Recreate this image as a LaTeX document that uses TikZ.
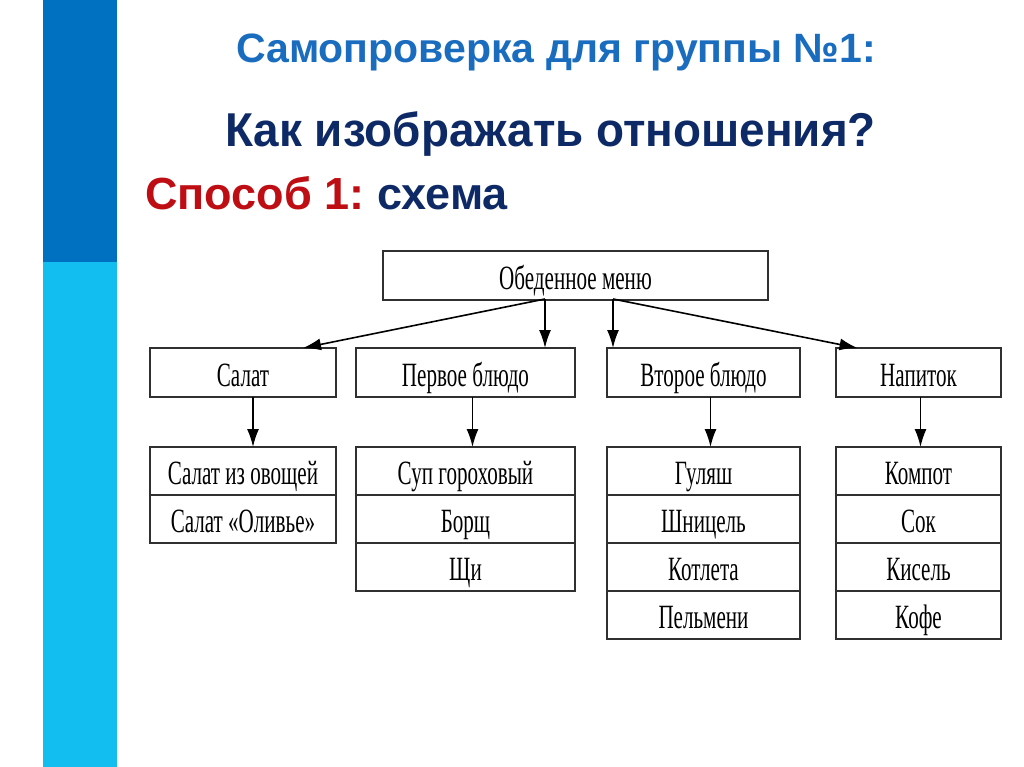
\documentclass[tikz,border=0pt]{standalone}
\usepackage{fontspec}
\setmainfont{Liberation Serif}[FakeStretch=0.62]
\newfontfamily\headfont{Liberation Sans}
\newfontfamily\headnarrow{Liberation Sans}[FakeStretch=0.965]
\usetikzlibrary{positioning,arrows.meta}

\definecolor{stripdark}{HTML}{0070C0}
\definecolor{striplight}{HTML}{12BEF0}
\definecolor{headblue}{HTML}{1A6DBE}
\definecolor{navy}{HTML}{0E2A66}
\definecolor{redhead}{HTML}{BE0E14}
\definecolor{boxline}{HTML}{303030}

\begin{document}
\begin{tikzpicture}[x=1pt,y=-1pt,
    box/.style={draw=boxline,line width=2.2pt,outer sep=0pt,inner sep=0pt,
      minimum height=48,text height=29pt,text depth=2pt,
      font=\fontsize{34}{36}\selectfont},
    arr/.style={line width=1.6pt,-{Latex[length=18pt,width=12pt]}}]
    \useasboundingbox (0,0) rectangle (1024,767);
    \fill[stripdark]  (43,0)   rectangle (117,262);
    \fill[striplight] (43,262) rectangle (117,767);

    \node[anchor=base west,inner sep=0pt,text=headblue,font=\headfont\bfseries\fontsize{41}{44}\selectfont] (h1) at (236,63) {Самопроверка для группы №1:};
    \node[anchor=base west,inner sep=0pt,text=navy,font=\headnarrow\bfseries\fontsize{47.5}{50}\selectfont] (h2) at (225,147) {Как изображать отношения?};
    \node[anchor=base west,inner sep=0pt,font=\headfont\bfseries\fontsize{45}{48}\selectfont] (h3) at (145,210) {\textcolor{redhead}{Способ 1:}\hspace{-4pt} \textcolor{navy}{схема}};

    \node[box,minimum width=385,minimum height=49] (menu) at (575.5,275.5) {Обеденное меню};
    \node[box,minimum width=186,minimum height=49] (sal)  at (243,372.5)   {Салат};
    \node[box,minimum width=219,minimum height=49] (perv) at (465.5,372.5) {Первое блюдо};
    \node[box,minimum width=193,minimum height=49] (vtor) at (703.5,372.5) {Второе блюдо};
    \node[box,minimum width=165,minimum height=49] (nap)  at (918.5,372.5) {Напиток};

    \node[box,minimum width=186] (sal1) at (243,471) {Салат из овощей};
    \node[box,minimum width=186,below=0pt of sal1] (sal2) {Салат «Оливье»};

    \node[box,minimum width=219] (perv1) at (465.5,471) {Суп гороховый};
    \node[box,minimum width=219,below=0pt of perv1] (perv2) {Борщ};
    \node[box,minimum width=219,below=0pt of perv2] (perv3) {Щи};

    \node[box,minimum width=193] (vtor1) at (703.5,471) {Гуляш};
    \node[box,minimum width=193,below=0pt of vtor1] (vtor2) {Шницель};
    \node[box,minimum width=193,below=0pt of vtor2] (vtor3) {Котлета};
    \node[box,minimum width=193,below=0pt of vtor3] (vtor4) {Пельмени};

    \node[box,minimum width=165] (nap1) at (918.5,471) {Компот};
    \node[box,minimum width=165,below=0pt of nap1] (nap2) {Сок};
    \node[box,minimum width=165,below=0pt of nap2] (nap3) {Кисель};
    \node[box,minimum width=165,below=0pt of nap3] (nap4) {Кофе};

    \coordinate (m1) at (545,299);
    \coordinate (m2) at (613,299);

    \draw[arr] (m1) -- ([xshift=60]sal.north);
    \draw[arr] (m1) -- (m1 |- perv.north);
    \draw[arr] (m2) -- (m2 |- vtor.north);
    \draw[arr] (m2) -- ([xshift=-61]nap.north);

    \draw[arr] ([xshift=10]sal.south)   -- ([xshift=10]sal1.north);
    \draw[arr] ([xshift=7]perv.south)   -- ([xshift=7]perv1.north);
    \draw[arr] ([xshift=7]vtor.south)   -- ([xshift=7]vtor1.north);
    \draw[arr] ([xshift=2]nap.south)    -- ([xshift=2]nap1.north);
\end{tikzpicture}
\end{document}
